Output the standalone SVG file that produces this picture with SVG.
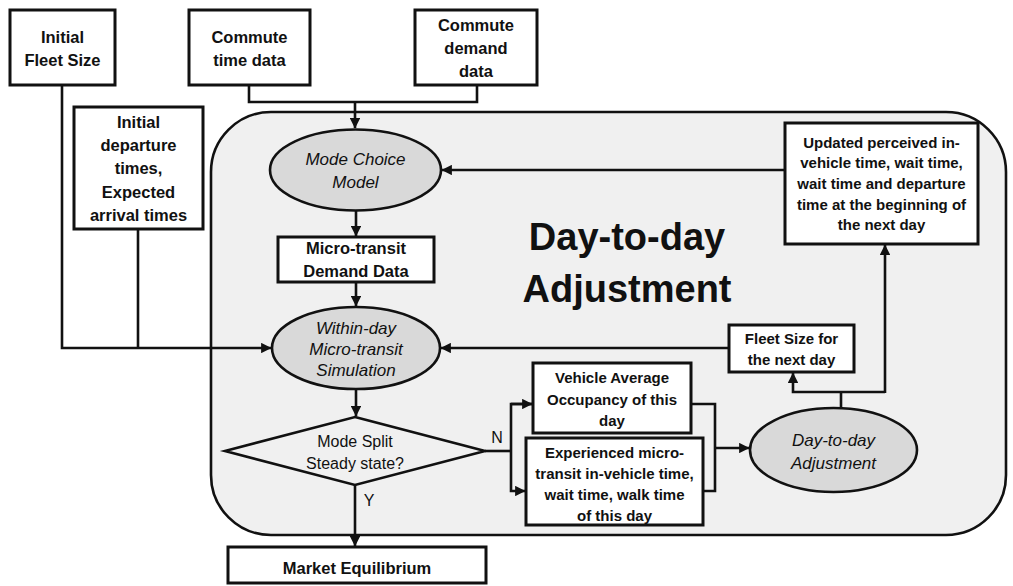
<svg xmlns="http://www.w3.org/2000/svg" width="1013" height="586" viewBox="0 0 1013 586">
  <style>
    .box { fill: #ffffff; stroke: #111; stroke-width: 3; }
    .oval { fill: #d9d9d9; stroke: #111; stroke-width: 2.6; }
    .wire { fill: none; stroke: #111; stroke-width: 2.6; }
    .t { font-family: "Liberation Sans", Arial, sans-serif; fill: #111; text-anchor: middle; }
    .b { font-weight: bold; }
    .i { font-style: italic; }
  </style>
  <defs>
    <marker id="arrow" viewBox="0 0 10 10" refX="9.5" refY="5" markerWidth="4" markerHeight="4" orient="auto" markerUnits="strokeWidth">
      <path d="M0,0 L10,5 L0,10 z" fill="#111"/>
    </marker>
  </defs>

  <rect width="1013" height="586" fill="#ffffff"/>

  <!-- shaded day-to-day region -->
  <g id="region">
    <rect x="211" y="112" width="795" height="423" rx="60" ry="60" fill="#f0f0f0" stroke="#111" stroke-width="2.6"/>
    <text class="t b" x="627" y="250" font-size="38">Day-to-day</text>
    <text class="t b" x="627" y="302" font-size="38">Adjustment</text>
  </g>

  <!-- connectors -->
  <g id="connectors">
    <path class="wire" d="M249,85 V102 H477 V85"/>
    <path class="wire" d="M355,102 V128" marker-end="url(#arrow)"/>
    <path class="wire" d="M356,210 V236" marker-end="url(#arrow)"/>
    <path class="wire" d="M356,282 V306" marker-end="url(#arrow)"/>
    <path class="wire" d="M62,85 V348 H271" marker-end="url(#arrow)"/>
    <path class="wire" d="M138,229 V348"/>
    <path class="wire" d="M356,389 V416" marker-end="url(#arrow)"/>
    <path class="wire" d="M355,485 V546" marker-end="url(#arrow)"/>
    <path class="wire" d="M485,451 H511"/>
    <path class="wire" d="M533,404 H511 V491 H525" marker-end="url(#arrow)"/>
    <path class="wire" d="M511,404 H532" marker-end="url(#arrow)"/>
    <path class="wire" d="M691,404 H715 V491 H703"/>
    <path class="wire" d="M715,448 H749" marker-end="url(#arrow)"/>
    <path class="wire" d="M841,408 V392"/>
    <path class="wire" d="M885,392 H793 V373" marker-end="url(#arrow)"/>
    <path class="wire" d="M885,393 V245" marker-end="url(#arrow)"/>
    <path class="wire" d="M729,348 H441" marker-end="url(#arrow)"/>
    <path class="wire" d="M785,170 H442" marker-end="url(#arrow)"/>
    <text class="t" x="497" y="443" font-size="16">N</text>
    <text class="t" x="369" y="506" font-size="16">Y</text>
  </g>

  <g id="initial-fleet">
    <rect class="box" x="10" y="10" width="105" height="75"/>
    <text class="t b" font-size="16.5" x="62.5" y="43">Initial</text>
    <text class="t b" font-size="16.5" x="62.5" y="66">Fleet Size</text>
  </g>

  <g id="commute-time">
    <rect class="box" x="189" y="10" width="121" height="75"/>
    <text class="t b" font-size="16.5" x="249.5" y="43">Commute</text>
    <text class="t b" font-size="16.5" x="249.5" y="66">time data</text>
  </g>

  <g id="commute-demand">
    <rect class="box" x="415" y="10" width="122" height="75"/>
    <text class="t b" font-size="16.5" x="476" y="31">Commute</text>
    <text class="t b" font-size="16.5" x="476" y="54">demand</text>
    <text class="t b" font-size="16.5" x="476" y="77">data</text>
  </g>

  <g id="initial-departure">
    <rect class="box" x="74" y="107" width="129" height="122"/>
    <text class="t b" font-size="16.5" x="138.5" y="128">Initial</text>
    <text class="t b" font-size="16.5" x="138.5" y="151">departure</text>
    <text class="t b" font-size="16.5" x="138.5" y="174">times,</text>
    <text class="t b" font-size="16.5" x="138.5" y="198">Expected</text>
    <text class="t b" font-size="16.5" x="138.5" y="221">arrival times</text>
  </g>

  <g id="mode-choice">
    <ellipse class="oval" cx="355.5" cy="170" rx="85.5" ry="40.5"/>
    <text class="t i" font-size="17" x="355.5" y="165">Mode Choice</text>
    <text class="t i" font-size="17" x="355.5" y="188">Model</text>
  </g>

  <g id="demand-data">
    <rect class="box" x="278" y="237" width="156" height="45"/>
    <text class="t b" font-size="16.5" x="356" y="254">Micro-transit</text>
    <text class="t b" font-size="16.5" x="356" y="277">Demand Data</text>
  </g>

  <g id="within-day">
    <ellipse class="oval" cx="356" cy="348" rx="84" ry="41"/>
    <text class="t i" font-size="17" x="356" y="334">Within-day</text>
    <text class="t i" font-size="17" x="356" y="355">Micro-transit</text>
    <text class="t i" font-size="17" x="356" y="376">Simulation</text>
  </g>

  <g id="steady-state">
    <polygon points="355,417 485,451 355,485 225,451" fill="#f0f0f0" stroke="#111" stroke-width="2.6"/>
    <text class="t" font-size="16" x="355" y="447">Mode Split</text>
    <text class="t" font-size="16" x="355" y="469">Steady state?</text>
  </g>

  <g id="market-equilibrium">
    <rect class="box" x="228" y="547" width="258" height="36"/>
    <text class="t b" font-size="16.5" x="357" y="574">Market Equilibrium</text>
  </g>

  <g id="occupancy">
    <rect class="box" x="533" y="363" width="158" height="70"/>
    <text class="t b" font-size="15" x="612" y="383">Vehicle Average</text>
    <text class="t b" font-size="15" x="612" y="405">Occupancy of this</text>
    <text class="t b" font-size="15" x="612" y="426">day</text>
  </g>

  <g id="experienced-times">
    <rect class="box" x="526" y="438" width="177" height="87"/>
    <text class="t b" font-size="15" x="614.5" y="458">Experienced micro-</text>
    <text class="t b" font-size="15" x="614.5" y="479">transit in-vehicle time,</text>
    <text class="t b" font-size="15" x="614.5" y="500">wait time, walk time</text>
    <text class="t b" font-size="15" x="614.5" y="521">of this day</text>
  </g>

  <g id="day-to-day">
    <ellipse class="oval" cx="833.5" cy="450" rx="83.5" ry="42"/>
    <text class="t i" font-size="17" x="833.5" y="446">Day-to-day</text>
    <text class="t i" font-size="17" x="833.5" y="469">Adjustment</text>
  </g>

  <g id="fleet-next">
    <rect class="box" x="729" y="325" width="125" height="47"/>
    <text class="t b" font-size="15" x="791.5" y="344">Fleet Size for</text>
    <text class="t b" font-size="15" x="791.5" y="365">the next day</text>
  </g>

  <g id="updated-perceived">
    <rect class="box" x="785" y="123" width="193" height="121"/>
    <text class="t b" font-size="15" x="881.5" y="148">Updated perceived in-</text>
    <text class="t b" font-size="15" x="881.5" y="168">vehicle time, wait time,</text>
    <text class="t b" font-size="15" x="881.5" y="189">wait time and departure</text>
    <text class="t b" font-size="15" x="881.5" y="210">time at the beginning of</text>
    <text class="t b" font-size="15" x="881.5" y="230">the next day</text>
  </g>
</svg>
